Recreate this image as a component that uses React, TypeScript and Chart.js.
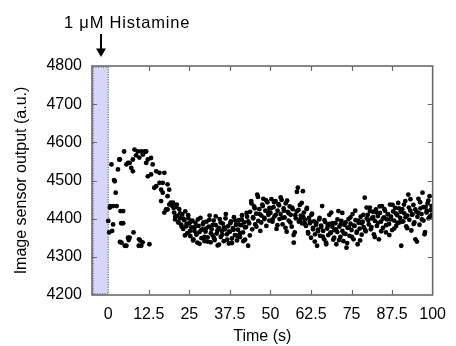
import { useEffect, useRef } from "react";
import { Chart, registerables } from "chart.js";

Chart.register(...registerables);

// ---- tick labels ----
const xTickValues = [0, 12.5, 25, 37.5, 50, 62.5, 75, 87.5, 100];
const yTickValues = [4200, 4300, 4400, 4500, 4600, 4700, 4800];

// ---- early response (upper branch), t in s ----
const riseTime = [0.0, 0.3, 0.5, 0.6, 1.0, 1.2, 1.5, 1.5, 1.8, 2.0, 2.3, 2.6, 3.0, 3.4, 3.6, 3.8, 4.0, 4.6, 4.6, 4.9, 5.6, 6.1, 6.6, 7.1, 7.6, 7.6, 8.1, 8.6, 9.1, 9.6, 10.2, 10.7, 11.2, 11.7, 11.7, 12.2, 12.2, 13.2, 13.2, 13.7, 14.2, 14.8, 14.8, 15.8, 15.8, 16.3, 16.3, 16.8, 16.8, 17.3, 17.3, 17.8, 18.3, 18.3, 18.3, 18.8, 18.8, 19.3, 19.8];
const riseValue = [4394, 4364, 4429, 4433, 4542, 4368, 4385, 4433, 4501, 4498, 4468, 4433, 4529, 4555, 4555, 4420, 4388, 4420, 4388, 4576, 4542, 4546, 4546, 4533, 4555, 4524, 4581, 4566, 4576, 4560, 4576, 4568, 4576, 4576, 4546, 4555, 4511, 4559, 4516, 4542, 4481, 4524, 4485, 4520, 4494, 4476, 4446, 4494, 4468, 4520, 4416, 4424, 4490, 4459, 4424, 4476, 4437, 4442, 4433];

// ---- early lower cluster ----
const dipTime = [3.6, 4.1, 5.1, 5.6, 6.1, 6.6, 7.8, 6.3, 9.5, 9.8, 9.4, 10.2, 12.7, 10.6];
const dipValue = [4339, 4337, 4329, 4329, 4350, 4350, 4364, 4344, 4346, 4343, 4329, 4329, 4333, 4338];

// ---- sustained phase: readings A, sampled every STEP_A s, one array per 10 s ----
const STEP_A = 0.3125;
const segStarts = [20, 30, 40, 50, 60, 70, 80, 90];
const seg20 = [4442, 4416, 4398, 4431, 4407, 4390, 4425, 4402, 4384, 4411, 4373, 4396, 4419, 4380, 4362, 4401, 4388, 4354, 4377, 4395, 4346, 4368, 4389, 4358, 4337, 4381, 4365, 4402, 4349, 4372, 4390, 4341];
const seg30 = [4366, 4392, 4351, 4379, 4408, 4338, 4372, 4356, 4395, 4344, 4383, 4361, 4330, 4376, 4399, 4352, 4368, 4387, 4341, 4372, 4412, 4359, 4380, 4335, 4366, 4393, 4348, 4375, 4404, 4357, 4384, 4343];
const seg40 = [4371, 4396, 4352, 4383, 4409, 4364, 4390, 4345, 4378, 4405, 4329, 4388, 4418, 4446, 4372, 4401, 4432, 4385, 4413, 4463, 4394, 4425, 4368, 4408, 4437, 4452, 4399, 4421, 4381, 4443, 4410, 4428];
const seg50 = [4415, 4451, 4392, 4430, 4406, 4446, 4373, 4421, 4438, 4399, 4412, 4449, 4385, 4427, 4403, 4440, 4366, 4418, 4395, 4432, 4410, 4379, 4425, 4337, 4364, 4401, 4419, 4481, 4392, 4436, 4408, 4388];
const seg60 = [4472, 4416, 4397, 4381, 4428, 4365, 4402, 4388, 4350, 4413, 4376, 4393, 4359, 4384, 4329, 4371, 4398, 4355, 4382, 4433, 4368, 4346, 4391, 4333, 4374, 4357, 4386, 4362, 4416, 4379, 4345, 4370];
const seg70 = [4388, 4333, 4365, 4420, 4379, 4352, 4394, 4368, 4341, 4384, 4360, 4324, 4376, 4399, 4355, 4387, 4370, 4412, 4346, 4381, 4396, 4363, 4333, 4389, 4374, 4405, 4358, 4392, 4378, 4455, 4367, 4401];
const seg80 = [4410, 4385, 4429, 4372, 4401, 4418, 4359, 4394, 4424, 4381, 4407, 4346, 4415, 4392, 4433, 4376, 4403, 4421, 4364, 4398, 4412, 4386, 4437, 4405, 4370, 4419, 4395, 4428, 4381, 4409, 4441, 4390];
const seg90 = [4402, 4329, 4425, 4393, 4414, 4446, 4380, 4408, 4463, 4397, 4421, 4369, 4411, 4436, 4390, 4346, 4418, 4405, 4452, 4384, 4427, 4412, 4468, 4395, 4359, 4431, 4416, 4440, 4401, 4459, 4422, 4409];
const segmentsA = [seg20, seg30, seg40, seg50, seg60, seg70, seg80, seg90];

// ---- sustained phase: readings B, every STEP_B s, offset OFFSET_B ----
const STEP_B = 0.5;
const OFFSET_B = 0.15;
const segB20 = [4428, 4405, 4437, 4392, 4414, 4379, 4400, 4356, 4386, 4409, 4367, 4393, 4343, 4378, 4361, 4398, 4334, 4370, 4385, 4352];
const segB30 = [4374, 4340, 4397, 4362, 4383, 4349, 4406, 4369, 4332, 4390, 4358, 4377, 4401, 4345, 4366, 4388, 4336, 4371, 4395, 4355];
const segB40 = [4385, 4362, 4398, 4341, 4377, 4415, 4393, 4356, 4440, 4404, 4427, 4379, 4457, 4412, 4390, 4433, 4402, 4448, 4418, 4395];
const segB50 = [4427, 4398, 4443, 4410, 4383, 4435, 4456, 4402, 4421, 4376, 4447, 4414, 4390, 4429, 4357, 4409, 4470, 4423, 4398, 4441];
const segB60 = [4404, 4386, 4425, 4361, 4393, 4410, 4372, 4340, 4389, 4367, 4402, 4378, 4353, 4396, 4337, 4381, 4410, 4364, 4388, 4350];
const segB70 = [4372, 4398, 4344, 4385, 4415, 4361, 4390, 4336, 4377, 4403, 4352, 4382, 4421, 4366, 4395, 4343, 4388, 4410, 4371, 4429];
const segB80 = [4395, 4420, 4378, 4404, 4352, 4416, 4389, 4432, 4367, 4400, 4425, 4383, 4411, 4357, 4398, 4436, 4374, 4414, 4389, 4427];
const segB90 = [4418, 4392, 4437, 4404, 4375, 4429, 4451, 4410, 4386, 4424, 4340, 4415, 4443, 4398, 4430, 4365, 4421, 4447, 4405, 4433];
const segmentsB = [segB20, segB30, segB40, segB50, segB60, segB70, segB80, segB90];

const X_MIN = -5;
const X_MAX = 100;
const Y_MIN = 4200;
const Y_MAX = 4800;
const STIM_END = 0;

const FONT_FAMILY = '"Liberation Sans", Arial, Helvetica, sans-serif';

function buildPoints() {
  const pts: { x: number; y: number }[] = [];
  riseTime.forEach((t, i) => pts.push({ x: t, y: riseValue[i] }));
  dipTime.forEach((t, i) => pts.push({ x: t, y: dipValue[i] }));
  segmentsA.forEach((seg, s) => {
    seg.forEach((v, i) => pts.push({ x: segStarts[s] + i * STEP_A, y: v }));
  });
  segmentsB.forEach((seg, s) => {
    seg.forEach((v, i) => pts.push({ x: segStarts[s] + OFFSET_B + i * STEP_B, y: v }));
  });
  return pts;
}

const framePlugin = {
  id: "framePlugin",
  beforeDatasetsDraw(chart: any) {
    const { ctx, chartArea, scales } = chart;
    const x0 = chartArea.left;
    const x1 = scales.x.getPixelForValue(STIM_END);
    ctx.save();
    ctx.fillStyle = "rgb(214,214,250)";
    ctx.fillRect(x0, chartArea.top, x1 - x0, chartArea.bottom - chartArea.top);
    ctx.restore();
  },
  afterDatasetsDraw(chart: any) {
    const { ctx, chartArea, scales } = chart;
    const { left, right, top, bottom } = chartArea;
    const x1 = scales.x.getPixelForValue(STIM_END);
    ctx.save();
    // dotted border of stimulus region
    ctx.strokeStyle = "#333355";
    ctx.lineWidth = 1;
    ctx.setLineDash([1, 1.5]);
    ctx.strokeRect(left + 1, top + 1, x1 - left - 1, bottom - top - 2);
    ctx.setLineDash([]);
    // frame
    ctx.strokeStyle = "#6a6a6a";
    ctx.lineWidth = 1.6;
    ctx.strokeRect(left, top, right - left, bottom - top);
    // inward ticks
    const tl = 5;
    ctx.lineWidth = 1.2;
    ctx.beginPath();
    xTickValues.forEach((v) => {
      if (v <= 0 || v >= X_MAX) return;
      const px = Math.round(scales.x.getPixelForValue(v)) + 0.5;
      ctx.moveTo(px, bottom);
      ctx.lineTo(px, bottom - tl);
      ctx.moveTo(px, top);
      ctx.lineTo(px, top + tl);
    });
    yTickValues.forEach((v) => {
      if (v <= Y_MIN || v >= Y_MAX) return;
      const py = Math.round(scales.y.getPixelForValue(v)) + 0.5;
      ctx.moveTo(left, py);
      ctx.lineTo(left + tl, py);
      ctx.moveTo(right, py);
      ctx.lineTo(right - tl, py);
    });
    ctx.stroke();
    ctx.restore();
  },
  afterDraw(chart: any) {
    const { ctx } = chart;
    ctx.save();
    ctx.fillStyle = "#000";
    ctx.font = `16.5px ${FONT_FAMILY}`;
    try {
      (ctx as any).letterSpacing = "0.8px";
    } catch (e) {}
    ctx.textAlign = "left";
    ctx.textBaseline = "alphabetic";
    ctx.fillText("1 \u03bcM Histamine", 64, 27.5);
    try {
      (ctx as any).letterSpacing = "0px";
    } catch (e) {}
    // arrow
    const ax = 101;
    ctx.strokeStyle = "#000";
    ctx.lineWidth = 2;
    ctx.beginPath();
    ctx.moveTo(ax, 34);
    ctx.lineTo(ax, 50);
    ctx.stroke();
    ctx.beginPath();
    ctx.moveTo(ax - 5, 48.5);
    ctx.lineTo(ax + 5, 48.5);
    ctx.lineTo(ax, 57);
    ctx.closePath();
    ctx.fill();
    ctx.restore();
  },
};

export default function App() {
  const canvasRef = useRef<HTMLCanvasElement | null>(null);

  useEffect(() => {
    if (!canvasRef.current) return;
    const font = { family: FONT_FAMILY, size: 16 };
    const chart = new Chart(canvasRef.current, {
      type: "scatter",
      data: {
        datasets: [
          {
            data: buildPoints(),
            backgroundColor: "#000",
            borderWidth: 0,
            pointRadius: 2.4,
            pointHoverRadius: 2.4,
          },
        ],
      },
      options: {
        responsive: false,
        animation: false,
        devicePixelRatio: 1,
        events: [],
        layout: { padding: { top: 66, right: 20, bottom: 0, left: 0 } },
        plugins: {
          legend: { display: false },
          tooltip: { enabled: false },
        },
        scales: {
          x: {
            type: "linear",
            min: X_MIN,
            max: X_MAX,
            afterBuildTicks: (s: any) => {
              s.ticks = xTickValues.map((v) => ({ value: v }));
            },
            afterFit: (s: any) => {
              s.height = 51;
            },
            ticks: {
              autoSkip: false,
              maxRotation: 0,
              padding: 10,
              color: "#000",
              font,
              callback: (v: any) => String(v),
            },
            grid: { display: false, drawTicks: false },
            border: { display: false },
            title: {
              display: true,
              text: "Time (s)",
              color: "#000",
              font,
              padding: { top: 0, bottom: 0 },
            },
          },
          y: {
            type: "linear",
            min: Y_MIN,
            max: Y_MAX,
            afterBuildTicks: (s: any) => {
              s.ticks = yTickValues.map((v) => ({ value: v }));
            },
            afterFit: (s: any) => {
              s.width = 92;
            },
            ticks: {
              padding: 10,
              color: "#000",
              font,
              callback: (v: any) => String(v),
            },
            grid: { display: false, drawTicks: false },
            border: { display: false },
            title: {
              display: true,
              text: "Image sensor output (a.u.)",
              color: "#000",
              font,
              padding: { top: 12, bottom: 0 },
            },
          },
        },
      },
      plugins: [framePlugin],
    } as any);
    return () => chart.destroy();
  }, []);

  return (
    <div style={{ position: "fixed", left: 0, top: 0, width: 456, height: 346, background: "#fff" }}>
      <canvas ref={canvasRef} width={456} height={346} style={{ display: "block", width: 456, height: 346 }} />
    </div>
  );
}
